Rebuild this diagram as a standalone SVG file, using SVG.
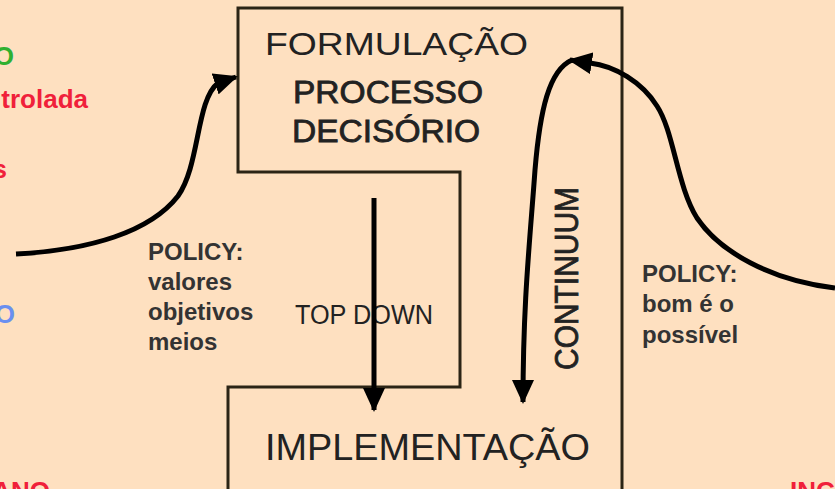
<svg xmlns="http://www.w3.org/2000/svg" width="835" height="489" viewBox="0 0 835 489">
<style>
.box{fill:none;stroke:#2b2415;stroke-width:3}
.t{font-family:"Liberation Sans",Arial,sans-serif;fill:#222}
.m{stroke:#222;stroke-width:0.8}
.lbl{font-family:"Liberation Sans",Arial,sans-serif;font-weight:bold;font-size:24px;fill:#333}
.side{font-family:"Liberation Sans",Arial,sans-serif;font-weight:bold;font-size:26px}
.c{fill:none;stroke:#000;stroke-width:5;stroke-linecap:butt}
</style>
<defs>
<marker id="ah" viewBox="0 0 24 22" refX="22" refY="11" markerWidth="24" markerHeight="22" markerUnits="userSpaceOnUse" orient="auto">
<path d="M0,0 L24,11 L0,22 z" fill="#000"/>
</marker>
</defs>
<rect x="0" y="0" width="835" height="489" fill="#FEE0C0"/>

<g id="side-texts">
<text class="side" x="14" y="65" text-anchor="end" fill="#30B030">O</text>
<text class="side" x="88" y="108" text-anchor="end" fill="#F0203A">trolada</text>
<text class="side" x="7" y="178" text-anchor="end" fill="#F0203A">s</text>
<text class="side" x="15" y="323" text-anchor="end" fill="#6A8FF0">O</text>
<text class="side" x="50" y="500" text-anchor="end" fill="#F0203A">ANO</text>
<text class="side" x="790" y="500" fill="#F0203A">INC</text>
</g>

<g id="frame">
<path class="box" d="M238,8 H622 V495 H228 V387 H460 V172 H238 Z"/>
</g>

<g id="formulacao">
<text class="t" x="265" y="55" font-size="32" textLength="263" lengthAdjust="spacingAndGlyphs">FORMULAÇÃO</text>
<text class="t m" x="293" y="103" font-size="31" textLength="190" lengthAdjust="spacingAndGlyphs">PROCESSO</text>
<text class="t m" x="292" y="142" font-size="31" textLength="188" lengthAdjust="spacingAndGlyphs">DECISÓRIO</text>
</g>

<g id="implementacao">
<text class="t" x="265" y="460" font-size="36" textLength="325" lengthAdjust="spacingAndGlyphs">IMPLEMENTAÇÃO</text>
</g>

<g id="topdown-label">
<text class="t" x="295" y="324" font-size="27" textLength="138" lengthAdjust="spacingAndGlyphs">TOP DOWN</text>
</g>

<g id="continuum-label">
<text class="t m" transform="translate(578,370) rotate(-90)" x="0" y="0" font-size="33" textLength="183" lengthAdjust="spacingAndGlyphs">CONTINUUM</text>
</g>

<g id="policy-left">
<text class="lbl" x="148" y="260">POLICY:</text>
<text class="lbl" x="148" y="290">valores</text>
<text class="lbl" x="148" y="320">objetivos</text>
<text class="lbl" x="148" y="350">meios</text>
</g>

<g id="policy-right">
<text class="lbl" x="642" y="282">POLICY:</text>
<text class="lbl" x="642" y="312">bom é o</text>
<text class="lbl" x="642" y="343">possível</text>
</g>

<g id="connectors">
<path class="c" d="M16,254 C90,250 150,232 178,196 C200,165 196,100 218,83 L236,77" marker-end="url(#ah)"/>
<path class="c" stroke-width="4" d="M374,198 V410" marker-end="url(#ah)"/>
<path class="c" d="M835,288 C770,280 720,252 697,218 C677,186 674,132 657,106 C642,82 615,66 590,63 L570,60" marker-end="url(#ah)"/>
<path class="c" stroke-width="4" d="M572,60 C549,70 540,110 535,170 C530,240 523,300 523,402" marker-end="url(#ah)"/>
</g>
</svg>
